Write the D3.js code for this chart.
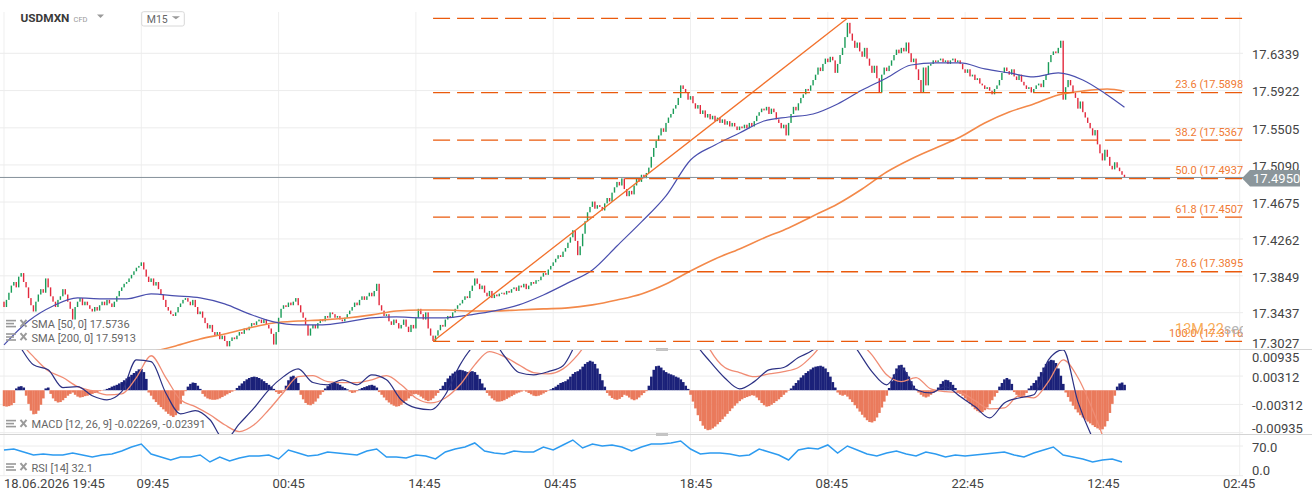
<!DOCTYPE html>
<html>
<head>
<meta charset="utf-8">
<script src="https://cdn.jsdelivr.net/npm/d3@7/dist/d3.min.js"></script>
<style>
  body { margin: 0; background: #fff; }
  svg text { font-family: Roboto, "Noto Sans", sans-serif; }
</style>
</head>
<body>
<svg id="chart"></svg>
<script>
// ---- data ----
const symbol = 'USDMXN';
const timeframe = 'M15';

const tickBars = [0, 56, 112, 168, 224, 280, 336, 392, 448, 504];
const tickLabels = ['18.06.2026 19:45', '09:45', '00:45', '14:45', '04:45', '18:45', '08:45', '22:45', '12:45', '02:45'];
const priceTicks = [17.6339, 17.5922, 17.5505, 17.5090, 17.4675, 17.4262, 17.3849, 17.3437, 17.3027];
const macdTicks = [0.00935, 0.00312, -0.00312, -0.00935];
const rsiTicks = [70, 0];

const firstOpen = 17.356;
// close of every 15 minute bar
const closes = [
  17.350,17.358,17.366,17.374,17.378,17.372,17.384,17.388,17.378,17.372,
  17.360,17.352,17.345,17.356,17.364,17.370,17.366,17.382,17.372,17.362,
  17.356,17.350,17.358,17.362,17.370,17.364,17.356,17.348,17.336,17.350,
  17.356,17.360,17.352,17.356,17.352,17.348,17.345,17.350,17.346,17.352,
  17.356,17.352,17.358,17.354,17.350,17.356,17.362,17.368,17.372,17.376,
  17.378,17.382,17.386,17.390,17.394,17.396,17.400,17.392,17.384,17.378,
  17.382,17.374,17.378,17.370,17.364,17.358,17.350,17.346,17.342,17.340,
  17.344,17.350,17.354,17.358,17.360,17.356,17.352,17.358,17.350,17.342,
  17.345,17.338,17.332,17.326,17.330,17.322,17.318,17.322,17.314,17.318,
  17.312,17.306,17.312,17.316,17.314,17.318,17.322,17.320,17.326,17.324,
  17.328,17.332,17.330,17.334,17.336,17.332,17.336,17.330,17.326,17.320,
  17.308,17.322,17.338,17.348,17.352,17.350,17.355,17.352,17.356,17.360,
  17.352,17.344,17.338,17.330,17.318,17.326,17.330,17.326,17.332,17.336,
  17.334,17.340,17.338,17.344,17.342,17.338,17.340,17.336,17.334,17.338,
  17.342,17.346,17.350,17.355,17.352,17.358,17.362,17.358,17.362,17.366,
  17.362,17.368,17.376,17.352,17.346,17.340,17.342,17.334,17.330,17.336,
  17.332,17.326,17.330,17.336,17.328,17.322,17.330,17.326,17.338,17.348,
  17.342,17.336,17.344,17.326,17.318,17.312,17.318,17.324,17.330,17.328,
  17.336,17.340,17.338,17.344,17.348,17.352,17.354,17.358,17.362,17.360,
  17.368,17.374,17.382,17.376,17.370,17.374,17.366,17.362,17.368,17.360,
  17.364,17.362,17.365,17.366,17.364,17.368,17.366,17.370,17.372,17.368,
  17.374,17.372,17.376,17.370,17.374,17.378,17.376,17.380,17.380,17.384,
  17.388,17.386,17.392,17.396,17.400,17.404,17.408,17.406,17.412,17.416,
  17.422,17.428,17.436,17.424,17.408,17.418,17.432,17.446,17.456,17.462,
  17.468,17.460,17.464,17.462,17.458,17.466,17.472,17.468,17.478,17.484,
  17.490,17.486,17.494,17.482,17.474,17.480,17.476,17.486,17.494,17.490,
  17.498,17.494,17.500,17.506,17.518,17.528,17.536,17.542,17.550,17.546,
  17.556,17.562,17.566,17.572,17.576,17.584,17.598,17.594,17.590,17.582,
  17.586,17.578,17.572,17.576,17.566,17.570,17.562,17.566,17.560,17.564,
  17.558,17.562,17.556,17.560,17.554,17.558,17.552,17.556,17.552,17.548,
  17.552,17.550,17.554,17.550,17.556,17.552,17.558,17.564,17.568,17.572,
  17.570,17.574,17.566,17.572,17.568,17.560,17.556,17.550,17.554,17.542,
  17.556,17.566,17.574,17.570,17.578,17.584,17.588,17.594,17.592,17.598,
  17.604,17.610,17.618,17.614,17.622,17.628,17.624,17.630,17.626,17.612,
  17.622,17.632,17.640,17.652,17.668,17.656,17.648,17.640,17.646,17.636,
  17.630,17.640,17.628,17.620,17.612,17.620,17.606,17.590,17.610,17.618,
  17.614,17.620,17.626,17.632,17.638,17.634,17.640,17.636,17.646,17.634,
  17.624,17.628,17.616,17.604,17.590,17.618,17.598,17.620,17.622,17.626,
  17.624,17.626,17.628,17.624,17.626,17.622,17.626,17.628,17.624,17.626,
  17.622,17.616,17.612,17.616,17.608,17.610,17.604,17.606,17.600,17.598,
  17.594,17.596,17.592,17.588,17.594,17.598,17.604,17.612,17.618,17.614,
  17.610,17.616,17.608,17.604,17.610,17.602,17.598,17.594,17.596,17.590,
  17.594,17.598,17.600,17.596,17.604,17.610,17.624,17.632,17.636,17.634,
  17.640,17.648,17.582,17.596,17.604,17.598,17.590,17.584,17.572,17.580,
  17.568,17.562,17.556,17.550,17.542,17.548,17.532,17.522,17.514,17.526,
  17.518,17.508,17.504,17.512,17.506,17.502,17.498,17.495
];

// [bar, value]
const sma50 = [
  [0,17.3076],[10,17.3344],[20,17.3512],[30,17.3602],[40,17.3591],[50,17.3591],[60,17.3647],[70,17.3624],[80,17.3602],[90,17.3535],
  [100,17.3423],[110,17.3333],[120,17.3300],[130,17.3300],[140,17.3333],[150,17.3378],[160,17.3389],[170,17.3378],[180,17.3378],[190,17.3412],
  [200,17.3456],[210,17.3524],[220,17.3635],[230,17.3770],[240,17.3915],[250,17.4183],[260,17.4452],[270,17.4743],[280,17.5145],[290,17.5313],
  [300,17.5447],[310,17.5582],[320,17.5626],[330,17.5660],[340,17.5772],[350,17.5928],[360,17.6063],[370,17.6208],[380,17.6231],[390,17.6231],
  [400,17.6164],[410,17.6119],[420,17.6075],[430,17.6119],[440,17.6041],[450,17.5873],[457,17.5736]
];
const sma200 = [
  [60,17.2998],[70,17.3065],[80,17.3143],[90,17.3199],[100,17.3266],[110,17.3322],[120,17.3344],[130,17.3356],[140,17.3378],[150,17.3412],
  [160,17.3456],[170,17.3467],[180,17.3467],[190,17.3456],[200,17.3456],[210,17.3467],[220,17.3479],[230,17.3490],[240,17.3524],[250,17.3579],
  [260,17.3647],[270,17.3758],[280,17.3904],[290,17.4038],[300,17.4150],[310,17.4273],[320,17.4385],[330,17.4519],[340,17.4653],[350,17.4821],
  [360,17.5011],[370,17.5157],[380,17.5280],[390,17.5403],[400,17.5559],[410,17.5682],[420,17.5772],[430,17.5873],[440,17.5917],[450,17.5940],[457,17.5913]
];

const fibLabels = ['', '23.6 (17.5898)', '38.2 (17.5367)', '50.0 (17.4937)', '61.8 (17.4507)', '78.6 (17.3895)', '100.0 (17.3116)'];
const fibPrices = [17.6730, 17.5898, 17.5367, 17.4937, 17.4507, 17.3895, 17.3116];
const fibStartBar = 175;
const trendBars = [175, 344];
const trendPrices = [17.3116, 17.6730];
const lastPrice = 17.4950;

// MACD histogram, one value per bar
const macdHist = [
  -0.0035,-0.0036,-0.0035,-0.0033,-0.0028, 0.0004,0.0008,0.0009,0.0006,
  -0.0012,-0.0030,-0.0045,-0.0053,-0.0052,-0.0045,-0.0032,-0.0018, 0.0004,0.0006,
  -0.0008,-0.0018,-0.0024,-0.0027,-0.0026,-0.0022,-0.0017,-0.0012,-0.0008,
  -0.0005,-0.0010,-0.0014,-0.0016,-0.0015,-0.0013,-0.0012,-0.0010,-0.0008,-0.0006,-0.0004,-0.0002,
  -0.0001,0.0001,0.0003,
  0.0005,0.0008,0.0010,0.0012,0.0015,0.0018,0.0022,0.0026,0.0030,0.0034,0.0038,0.0042,0.0046,0.0047,0.0040,0.0025,
  -0.0005,-0.0012,-0.0020,-0.0026,-0.0032,-0.0037,-0.0042,-0.0047,-0.0052,-0.0056,-0.0059,-0.0055,-0.0045,-0.0030,
  -0.0012,-0.0002,
  0.0008,0.0014,0.0017,0.0016,0.0010,0.0003,
  -0.0008,-0.0014,-0.0018,-0.0020,-0.0021,-0.0021,-0.0020,-0.0018,-0.0015,-0.0012,-0.0009,-0.0006,-0.0003,-0.0001,
  0.0005,0.0010,0.0015,0.0020,0.0024,0.0027,0.0029,0.0030,0.0029,0.0027,0.0024,0.0020,0.0016,0.0012,0.0008,0.0003,
  -0.0004,-0.0008,-0.0006,-0.0002,
  0.0010,0.0022,0.0030,0.0032,0.0028,0.0016,
  -0.0010,-0.0020,-0.0028,-0.0032,-0.0033,-0.0030,-0.0025,-0.0018,-0.0010,-0.0004,
  0.0004,0.0009,0.0013,0.0016,0.0017,0.0015,0.0012,0.0008,0.0005,0.0002,
  -0.0003,-0.0006,-0.0005,-0.0002,0.0002,0.0005,0.0007,0.0009,0.0011,0.0012,0.0010,0.0006,
  -0.0004,-0.0010,-0.0016,-0.0022,-0.0027,-0.0031,-0.0034,-0.0036,-0.0035,-0.0032,-0.0028,-0.0023,-0.0018,-0.0013,-0.0009,
  -0.0008,-0.0010,-0.0014,-0.0018,-0.0022,-0.0024,-0.0022,-0.0018,-0.0012,-0.0006,
  0.0003,0.0010,0.0018,0.0026,0.0032,0.0037,0.0041,0.0044,0.0045,0.0044,0.0042,0.0040,0.0041,0.0042,0.0040,0.0034,0.0025,0.0015,0.0006,
  -0.0006,-0.0012,-0.0018,-0.0022,-0.0025,-0.0025,-0.0024,-0.0022,-0.0019,-0.0016,-0.0013,-0.0010,-0.0007,-0.0005,-0.0003,-0.0001,
  -0.0003,-0.0006,-0.0009,-0.0012,-0.0013,-0.0012,-0.0010,-0.0007,-0.0004,-0.0001,0.0002,0.0005,
  0.0008,0.0012,0.0016,0.0018,0.0020,0.0024,0.0030,0.0036,0.0040,0.0042,0.0046,0.0052,0.0058,0.0062,0.0065,0.0063,0.0058,0.0048,0.0036,0.0022,0.0008,
  -0.0006,-0.0012,-0.0017,-0.0020,-0.0021,-0.0019,-0.0015,-0.0010,
  -0.0012,-0.0016,-0.0020,-0.0022,-0.0020,-0.0016,-0.0011,-0.0006,-0.0002,
  0.0010,0.0030,0.0045,0.0053,0.0054,0.0050,0.0044,0.0040,0.0037,0.0035,0.0033,0.0030,0.0028,0.0024,0.0018,0.0010,0.0003,
  -0.0010,-0.0025,-0.0040,-0.0055,-0.0068,-0.0078,-0.0085,-0.0088,-0.0087,-0.0084,-0.0080,-0.0075,-0.0070,-0.0064,-0.0058,-0.0052,-0.0046,-0.0040,-0.0034,-0.0029,-0.0024,-0.0020,-0.0017,-0.0015,-0.0013,-0.0011,
  -0.0012,-0.0016,-0.0022,-0.0028,-0.0033,-0.0036,-0.0035,-0.0032,-0.0028,-0.0024,-0.0020,-0.0015,-0.0010,-0.0005,-0.0001,
  0.0004,0.0010,0.0016,0.0022,0.0028,0.0033,0.0038,0.0042,0.0046,0.0050,0.0052,0.0053,0.0054,0.0052,0.0048,0.0040,0.0030,0.0018,0.0006,
  -0.0005,-0.0010,-0.0012,-0.0010,
  -0.0014,-0.0020,-0.0026,-0.0033,-0.0040,-0.0047,-0.0054,-0.0060,-0.0066,-0.0070,-0.0071,-0.0068,-0.0060,-0.0050,-0.0038,-0.0025,-0.0012,
  0.0005,0.0020,0.0035,0.0048,0.0055,0.0056,0.0050,0.0040,0.0030,0.0020,0.0010,0.0003,
  -0.0005,-0.0010,-0.0014,-0.0016,-0.0014,-0.0010,-0.0006,-0.0002,
  0.0006,0.0014,0.0020,0.0023,0.0022,0.0018,0.0012,0.0005,
  -0.0004,-0.0008,-0.0012,-0.0018,-0.0024,-0.0030,-0.0036,-0.0042,-0.0046,-0.0049,-0.0048,-0.0044,-0.0038,-0.0030,-0.0022,-0.0014,-0.0006,
  0.0008,0.0016,0.0024,0.0027,0.0024,0.0014,
  -0.0004,-0.0010,-0.0015,-0.0016,-0.0012,-0.0006,
  0.0004,0.0010,0.0016,0.0022,0.0030,0.0040,0.0050,0.0058,0.0064,0.0067,0.0066,0.0060,0.0048,0.0032,0.0014,
  -0.0005,-0.0015,-0.0025,-0.0034,-0.0042,-0.0049,-0.0055,-0.0060,-0.0065,-0.0069,-0.0073,-0.0077,-0.0081,-0.0084,-0.0087,-0.0086,-0.0080,-0.0068,-0.0050,-0.0030,-0.0012,
  0.0008,0.0015,0.0017,0.0012
];

// MACD and signal lines, read every 6 bars
const lineStep = 6;
const macdLine = [
  0.0144,0.0100,0.0056,0.0045,0.0006,0.0008,-0.0012,-0.0021,-0.0003,0.0067,
  0.0063,-0.0006,-0.0052,-0.0045,-0.0065,-0.0110,-0.0074,-0.0039,0.0001,0.0030,
  0.0047,0.0017,0.0012,0.0023,0.0012,0.0034,0.0023,-0.0021,-0.0039,-0.0043,
  -0.0010,0.0056,0.0100,0.0116,0.0076,0.0039,0.0034,0.0041,0.0054,0.0110,
  0.0155,0.0190,0.0220,0.0260,0.0280,0.0260,0.0180,0.0105,0.0063,0.0027,
  0.0003,0.0019,0.0045,0.0050,0.0072,0.0089,0.0122,0.0133,0.0089,0.0041,
  0.0012,0.0050,0.0001,-0.0006,0.0008,-0.0014,-0.0036,-0.0061,-0.0028,-0.0017,
  -0.0010,0.0067,0.0089,-0.0025,-0.0105,-0.0160,-0.0225
];
const signalLine = [
  0.0160,0.0110,0.0074,0.0043,0.0028,0.0008,-0.0001,-0.0010,-0.0008,0.0028,
  0.0076,0.0028,-0.0021,-0.0036,-0.0054,-0.0076,-0.0091,-0.0076,-0.0043,-0.0005,
  0.0030,0.0032,0.0019,0.0017,0.0017,0.0023,0.0032,0.0012,-0.0017,-0.0028,
  -0.0017,0.0012,0.0056,0.0085,0.0074,0.0056,0.0039,0.0036,0.0047,0.0078,
  0.0122,0.0160,0.0210,0.0250,0.0280,0.0280,0.0240,0.0160,0.0089,0.0050,
  0.0039,0.0030,0.0036,0.0041,0.0050,0.0078,0.0116,0.0140,0.0111,0.0078,
  0.0034,0.0019,0.0028,0.0003,-0.0003,-0.0005,-0.0023,-0.0041,-0.0039,-0.0012,
  -0.0017,0.0019,0.0067,0.0028,-0.0043,-0.0130,-0.0239
];

// RSI(14), read every 4 bars
const rsiStep = 4;
const rsi = [
  60.6,62.9,55.9,48.8,51.1,48.8,48.8,53.5,48.8,44.1,
  48.8,51.1,58.2,67.6,74.7,51.1,44.1,37.0,44.1,44.1,
  48.8,32.3,44.1,34.6,41.7,46.4,46.4,48.8,39.4,60.6,
  53.5,46.4,48.8,55.9,53.5,51.1,48.8,58.2,62.9,44.1,
  44.1,41.7,48.8,46.4,39.4,55.9,62.9,67.6,77.1,58.2,
  53.5,51.1,58.2,55.9,55.9,67.6,60.6,72.4,84.1,65.3,
  74.7,70.0,72.4,67.6,58.2,67.6,74.7,74.7,77.1,81.8,
  62.9,51.1,53.5,53.5,51.1,46.4,48.8,62.9,55.9,48.8,
  37.0,60.6,65.3,62.9,72.4,53.5,70.0,60.6,51.1,46.4,
  53.5,58.2,51.1,46.4,55.9,51.1,44.1,48.8,46.4,48.8,
  51.1,53.5,55.9,48.8,44.1,53.5,60.6,67.6,48.8,44.1,
  39.4,32.3,37.0,39.4,32.3
];

const legendSma50 = 'SMA [50, 0] 17.5736';
const legendSma200 = 'SMA [200, 0] 17.5913';
const legendMacd = 'MACD [12, 26, 9] -0.02269, -0.02391';
const legendRsi = 'RSI [14] 32.1';

class TradingChart {

  constructor(_config) {
    this.config = {
      parentElement: _config.parentElement,
      width: 1312,
      height: 501,
      plotRight: 1243,
      panes: {
        main: {top: 10, bottom: 349.3},
        macd: {top: 350, bottom: 434},
        rsi: {top: 434.5, bottom: 476}
      }
    };
    this.initVis();
  }

  initVis() {
    let vis = this;
    const c = vis.config;

    vis.svg = d3.select(c.parentElement)
      .attr('width', c.width)
      .attr('height', c.height);

    vis.x = d3.scaleLinear().domain([0, 504]).range([4, 1239.7]);
    vis.yPrice = d3.scaleLinear().domain([17.3027, 17.6339]).range([349.3, 53.3]);
    vis.yMacd = d3.scaleLinear().domain([-0.00935, 0.00935]).range([432.7, 347.8]);
    vis.yRsi = d3.scaleLinear().domain([0, 70]).range([475.7, 446]);

    const defs = vis.svg.append('defs');
    Object.entries(c.panes).forEach(([key, p]) => {
      defs.append('clipPath').attr('id', 'clip-' + key)
        .append('rect')
        .attr('x', 0).attr('y', p.top)
        .attr('width', c.plotRight).attr('height', p.bottom - p.top);
    });

    vis.grid = vis.svg.append('g');
    vis.main = vis.svg.append('g').attr('clip-path', 'url(#clip-main)');
    vis.macd = vis.svg.append('g').attr('clip-path', 'url(#clip-macd)');
    vis.rsi = vis.svg.append('g').attr('clip-path', 'url(#clip-rsi)');
    vis.axes = vis.svg.append('g');
  }

  renderVis() {
    let vis = this;
    const c = vis.config;
    const x = vis.x;

    // vertical grid
    vis.grid.selectAll('.vgrid')
      .data(tickBars)
      .join('line')
      .attr('class', 'vgrid')
      .attr('x1', d => x(d)).attr('x2', d => x(d))
      .attr('y1', 12).attr('y2', c.panes.rsi.bottom)
      .attr('stroke', '#efefef');

    // horizontal grids
    const hgrid = (data, scale, pane) => {
      vis.grid.append('g').selectAll('line')
        .data(data.filter(d => scale(d) > pane.top + 1 && scale(d) < pane.bottom - 0.5))
        .join('line')
        .attr('x1', 0).attr('x2', c.plotRight)
        .attr('y1', d => scale(d)).attr('y2', d => scale(d))
        .attr('stroke', '#ececec');
    };
    hgrid(priceTicks, vis.yPrice, c.panes.main);
    hgrid(macdTicks, vis.yMacd, c.panes.macd);
    hgrid(rsiTicks, vis.yRsi, {top: c.panes.rsi.top, bottom: c.panes.rsi.bottom + 1});

    // pane separators
    vis.grid.selectAll('.sep')
      .data([349.5, 434.5])
      .join('line')
      .attr('class', 'sep')
      .attr('x1', 0).attr('x2', c.width)
      .attr('y1', d => d).attr('y2', d => d)
      .attr('stroke', '#d4d4d4');
    vis.grid.selectAll('.handle')
      .data([349.5, 434.5])
      .join('rect')
      .attr('class', 'handle')
      .attr('x', 656).attr('y', d => d - 1.5)
      .attr('width', 12).attr('height', 3)
      .attr('fill', '#c4c4c4');

    // ---- main pane ----
    const candles = closes.map((cl, i) => ({i, open: i ? closes[i - 1] : firstOpen, close: cl}));
    vis.main.selectAll('.candle')
      .data(candles)
      .join('rect')
      .attr('class', 'candle')
      .attr('x', d => x(d.i) - 0.7)
      .attr('width', 1.4)
      .attr('y', d => vis.yPrice(Math.max(d.open, d.close)))
      .attr('height', d => Math.max(1, Math.abs(vis.yPrice(d.open) - vis.yPrice(d.close))))
      .attr('fill', d => d.close >= d.open ? '#1a9c58' : '#e3293d');

    const priceLine = d3.line()
      .x(d => x(d[0]))
      .y(d => vis.yPrice(d[1]))
      .curve(d3.curveMonotoneX);

    vis.main.append('path')
      .datum(sma200)
      .attr('d', priceLine)
      .attr('fill', 'none')
      .attr('stroke', '#f3894a')
      .attr('stroke-width', 1.6);

    vis.main.append('path')
      .datum(sma50)
      .attr('d', priceLine)
      .attr('fill', 'none')
      .attr('stroke', '#4a4fae')
      .attr('stroke-width', 1.2);

    // fibonacci retracement
    vis.main.selectAll('.fib')
      .data(fibPrices)
      .join('line')
      .attr('class', 'fib')
      .attr('x1', x(fibStartBar)).attr('x2', c.plotRight)
      .attr('y1', d => vis.yPrice(d)).attr('y2', d => vis.yPrice(d))
      .attr('stroke', '#ea5a0c')
      .attr('stroke-width', 1.3)
      .attr('stroke-dasharray', '17,7');

    vis.main.append('line')
      .attr('x1', x(trendBars[0])).attr('y1', vis.yPrice(trendPrices[0]))
      .attr('x2', x(trendBars[1])).attr('y2', vis.yPrice(trendPrices[1]))
      .attr('stroke', '#f2712c')
      .attr('stroke-width', 1.3);

    vis.main.selectAll('.fib-label')
      .data(fibPrices.map((p, k) => ({p, label: fibLabels[k]})).filter(d => d.label))
      .join('text')
      .attr('class', 'fib-label')
      .attr('x', c.plotRight + 4)
      .attr('y', d => vis.yPrice(d.p) - 4.5)
      .attr('text-anchor', 'end')
      .attr('font-size', 11)
      .attr('fill', '#f07a34')
      .text(d => d.label);

    // current price line
    vis.main.append('line')
      .attr('x1', 0).attr('x2', c.plotRight)
      .attr('y1', vis.yPrice(lastPrice)).attr('y2', vis.yPrice(lastPrice))
      .attr('stroke', '#84909a')
      .attr('stroke-width', 1);

    // countdown to the bar close, drawn over the 100.0 label as in the terminal
    const cd = vis.main.append('text')
      .attr('x', 1175).attr('y', 333.5)
      .attr('font-size', 14.5);
    cd.append('tspan').attr('fill', '#f6a244').attr('fill-opacity', 0.9).text('13M 22');
    cd.append('tspan').attr('fill', '#b4b4b4').text('seg');

    // ---- MACD pane ----
    const bw = x(1) - x(0);
    vis.macd.selectAll('.hist')
      .data(macdHist)
      .join('rect')
      .attr('class', 'hist')
      .attr('x', (d, i) => x(i) - bw / 2)
      .attr('width', bw + 0.2)
      .attr('y', d => vis.yMacd(Math.max(0, d)))
      .attr('height', d => Math.abs(vis.yMacd(d) - vis.yMacd(0)))
      .attr('fill', d => d >= 0 ? '#1b2179' : '#ea7a5c');

    const macdPath = d3.line()
      .x((d, k) => x(k * lineStep))
      .y(d => vis.yMacd(d))
      .curve(d3.curveMonotoneX);

    vis.macd.append('path')
      .datum(signalLine)
      .attr('d', macdPath)
      .attr('fill', 'none')
      .attr('stroke', '#f08c74')
      .attr('stroke-width', 1.3);

    vis.macd.append('path')
      .datum(macdLine)
      .attr('d', macdPath)
      .attr('fill', 'none')
      .attr('stroke', '#2c3184')
      .attr('stroke-width', 1.2);

    // ---- RSI pane ----
    vis.rsi.append('path')
      .datum(rsi)
      .attr('d', d3.line().x((d, k) => x(k * rsiStep)).y(d => vis.yRsi(d)))
      .attr('fill', 'none')
      .attr('stroke', '#2d9bf0')
      .attr('stroke-width', 1.5);

    // ---- axes ----
    const axisLabels = (data, scale, pane, fmt) => {
      vis.axes.append('g').selectAll('text')
        .data(data)
        .join('text')
        .attr('x', 1252)
        .attr('y', d => Math.min(Math.max(scale(d) + 1.2, pane.top + 7.2), pane.bottom - 5.8) + 4.5)
        .attr('font-size', 13)
        .attr('fill', '#444')
        .text(fmt);
    };
    axisLabels(priceTicks, vis.yPrice, c.panes.main, d => d.toFixed(4));
    axisLabels(macdTicks, vis.yMacd, c.panes.macd, d => d.toFixed(5));
    axisLabels(rsiTicks, vis.yRsi, c.panes.rsi, d => d.toFixed(1));

    vis.axes.selectAll('.time-label')
      .data(tickBars)
      .join('text')
      .attr('class', 'time-label')
      .attr('x', (d, k) => k === 0 ? x(d) : x(d) + 13 - 1.5 * k)
      .attr('y', 488)
      .attr('text-anchor', (d, k) => k === 0 ? 'start' : 'middle')
      .attr('font-size', 13)
      .attr('fill', '#444')
      .text((d, k) => tickLabels[k]);

    // last price tag
    const ly = vis.yPrice(lastPrice) + 0.8;
    vis.axes.append('path')
      .attr('d', `M1242,${ly} L1250,${ly - 8.3} L1300,${ly - 8.3} L1300,${ly + 8.3} L1250,${ly + 8.3} Z`)
      .attr('fill', '#8b969b');
    vis.axes.append('text')
      .attr('x', 1253).attr('y', ly + 4.6)
      .attr('font-size', 13)
      .attr('fill', '#fff')
      .text(lastPrice.toFixed(4));

    // ---- legends ----
    const legend = (label, baseline) => {
      const g = vis.axes.append('g').attr('transform', `translate(0,${baseline})`);
      [-8.5, -5.5, -2.5].forEach((dy, k) => {
        g.append('rect').attr('x', 6).attr('y', dy).attr('width', k === 1 ? 8 : 10).attr('height', 1.6).attr('fill', '#9a9a9a');
      });
      g.append('path')
        .attr('d', 'M20.5,-8.5 L26.5,-1.5 M26.5,-8.5 L20.5,-1.5')
        .attr('stroke', '#9a9a9a').attr('stroke-width', 2);
      g.append('text')
        .attr('x', 31.5).attr('y', 0)
        .attr('font-size', 11)
        .attr('fill', '#666')
        .text(label);
    };
    legend(legendSma50, 328.3);
    legend(legendSma200, 341.7);
    legend(legendMacd, 428.3);
    legend(legendRsi, 471.7);

    // ---- header ----
    const head = vis.axes.append('g');
    head.append('text').attr('x', 20.5).attr('y', 21.7)
      .attr('font-size', 11.8).attr('font-weight', 'bold').attr('fill', '#3a3a3a').text(symbol);
    head.append('text').attr('x', 73.5).attr('y', 21.5)
      .attr('font-size', 7.5).attr('fill', '#999').text('CFD');
    head.append('path').attr('d', 'M97,14.5 L104,14.5 L100.5,18 Z').attr('fill', '#9a9a9a');
    head.append('rect').attr('x', 141.7).attr('y', 11.7).attr('width', 42.6).attr('height', 14.3)
      .attr('rx', 2).attr('fill', '#fff').attr('stroke', '#d8d8d8');
    head.append('text').attr('x', 146.8).attr('y', 22.6)
      .attr('font-size', 10.5).attr('fill', '#666').text(timeframe);
    head.append('path').attr('d', 'M171.8,16.2 L180,16.2 L175.9,19.2 Z').attr('fill', '#9a9a9a');
  }
}

const chart = new TradingChart({parentElement: '#chart'});
chart.renderVis();
</script>
</body>
</html>
